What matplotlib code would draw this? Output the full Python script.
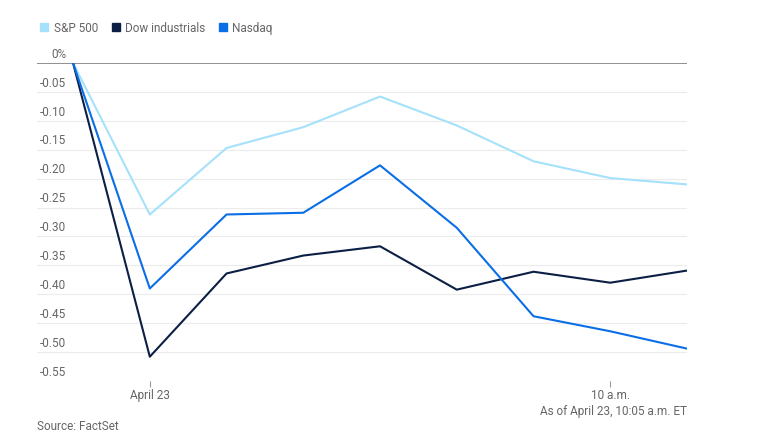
import matplotlib
matplotlib.use("Agg")
from matplotlib import pyplot as plt
from matplotlib.lines import Line2D

plt.rcParams['font.family'] = ['Liberation Sans Narrow', 'Roboto', 'DejaVu Sans']

# readings (index of each time step), % change
steps = [0, 1, 2, 3, 4, 5, 6, 7, 8]
sp500 = [0, -0.262, -0.147, -0.111, -0.058, -0.108, -0.170, -0.199, -0.210]
dow = [0, -0.508, -0.364, -0.333, -0.317, -0.392, -0.361, -0.380, -0.359]
nasdaq = [0, -0.390, -0.262, -0.259, -0.177, -0.285, -0.438, -0.464, -0.494]
names = ['S&P 500', 'Dow industrials', 'Nasdaq']
xtick_pos = [1, 7]
xtick_labels = ['April 23', '10 a.m.']
yticks = [0, -0.05, -0.10, -0.15, -0.20, -0.25, -0.30, -0.35, -0.40, -0.45, -0.50, -0.55]

c_sp = '#a5e1fb'
c_dow = '#0b1f45'
c_nas = '#0a6ee6'
grey = '#666666'

fig = plt.figure(figsize=(7.77, 4.41), dpi=100)
ax = fig.add_axes([37 / 777, 1 - 381 / 441, 650 / 777, 318 / 441])

ax.plot(steps, sp500, c=c_sp, lw=1.5)
ax.plot(steps, dow, c=c_dow, lw=1.5)
ax.plot(steps, nasdaq, c=c_nas, lw=1.5)

ax.set_xlim(-0.47, 8)
ax.set_ylim(-0.55, 0)

# gridlines and y labels sitting above them
for v in yticks:
    if v == 0:
        ax.axhline(v, color='#888888', lw=1.3, zorder=1)
        lab = '0%'
    else:
        ax.axhline(v, color='#ececec', lw=0.8, zorder=0)
        lab = '%.2f' % v
    ax.text(72 / 777 - 37 / 777, v + 0.004, lab, transform=ax.get_yaxis_transform(),
            ha='right', va='bottom', fontsize=8.5, color=grey)
ax.set_yticks([])

for s in ax.spines.values():
    s.set_visible(False)
ax.set_xticks(xtick_pos)
ax.set_xticklabels(xtick_labels)
ax.tick_params(axis='x', length=4, color='#999999', labelsize=8.5, labelcolor=grey, pad=2)

handles = [Line2D([], [], ls='none', marker='s', ms=5.2, mfc=c, mec=c)
           for c in [c_sp, c_dow, c_nas]]
fig.legend(handles, names, loc='upper left', bbox_to_anchor=(30 / 777, 1 - 11 / 441), ncol=3,
           frameon=False, handlelength=0.6, handletextpad=0.5,
           columnspacing=1.2, fontsize=8.5, labelcolor=grey)

fig.text(687 / 777, 1 - 411 / 441, 'As of April 23, 10:05 a.m. ET', ha='right', va='center',
         fontsize=8.5, color=grey)
fig.text(37 / 777, 1 - 426 / 441, 'Source: FactSet', ha='left', va='center',
         fontsize=8.5, color=grey)

fig.savefig('out.png', dpi=100)
